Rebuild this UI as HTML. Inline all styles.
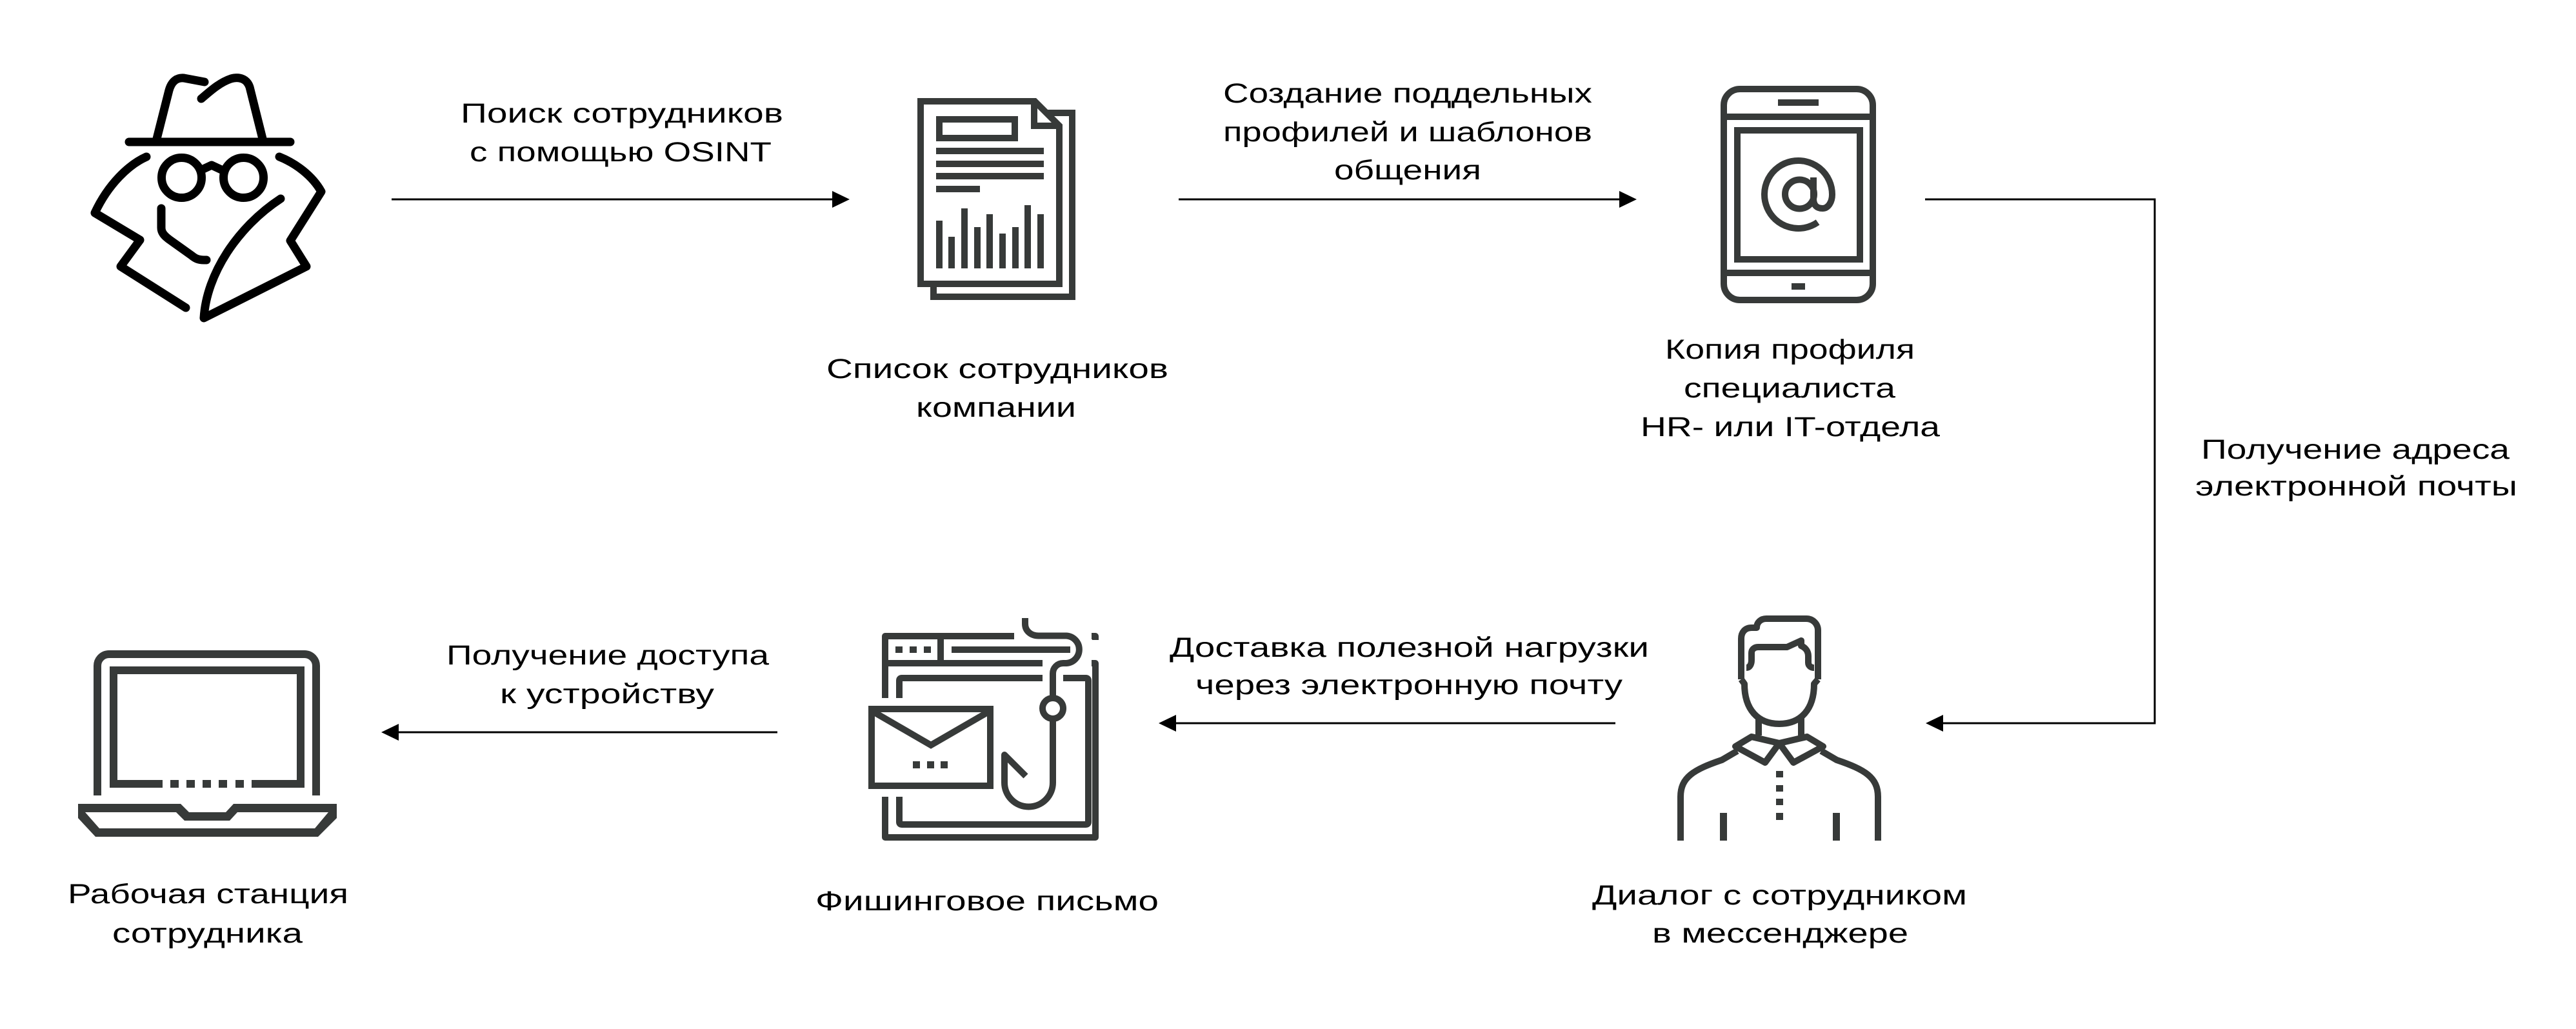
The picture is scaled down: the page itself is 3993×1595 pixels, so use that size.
<!DOCTYPE html>
<html>
<head>
<meta charset="utf-8">
<style>
html,body{margin:0;padding:0;background:#fff;}
body{width:3993px;height:1595px;overflow:hidden;}
svg{display:block;}
text{font-family:"Liberation Sans","Noto Sans CJK SC",sans-serif;font-size:43px;fill:#000;}
</style>
</head>
<body>
<svg width="3993" height="1595" viewBox="0 0 3993 1595" xmlns="http://www.w3.org/2000/svg">
<rect x="0" y="0" width="3993" height="1595" fill="#fff"/>

<!-- ===== Spy icon ===== -->
<g fill="none" stroke="#000" stroke-width="13" stroke-linecap="round" stroke-linejoin="round">
  <path d="M200,220 H450"/>
  <path d="M243,215 L262,140 C266,126 274,120 285,121 L317,127"/>
  <path d="M312,153 C325,142 340,128 358,122 C372,118 383,123 387,135 L407,215"/>
  <circle cx="281.5" cy="275.5" r="31"/>
  <circle cx="377.5" cy="275.5" r="31"/>
  <path d="M313,263 L328,256 L343,263"/>
  <path d="M227,243 C200,255 168,285 147,330 L217,372 L187,413 L288,477"/>
  <path d="M433,243 C458,253 484,272 498,297 L450,373 L475,413 L316,493 C320,425 368,352 435,308"/>
  <path d="M250,323 V353 C250,360 254,365 262,371 L297,396 C303,401 308,403 316,403 L320,403"/>
</g>

<!-- ===== Document icon ===== -->
<g fill="none" stroke="#373a39" stroke-width="10" stroke-linejoin="miter">
  <path d="M1427,157 H1604 L1642,195 V440 H1427 Z"/>
  <path d="M1603,157 V195 H1642"/>
  <path d="M1447,445 V460 H1662 V175 H1621"/>
  <rect x="1456" y="185" width="117" height="29"/>
</g>
<g fill="#373a39">
  <rect x="1451" y="229" width="167" height="10"/>
  <rect x="1451" y="249" width="167" height="10"/>
  <rect x="1451" y="268" width="167" height="10"/>
  <rect x="1451" y="288" width="68" height="10"/>
  <rect x="1451" y="342" width="10" height="74"/>
  <rect x="1470" y="367" width="10" height="49"/>
  <rect x="1490" y="323" width="10" height="93"/>
  <rect x="1510" y="352" width="10" height="64"/>
  <rect x="1529" y="332" width="10" height="84"/>
  <rect x="1549" y="362" width="10" height="54"/>
  <rect x="1569" y="352" width="10" height="64"/>
  <rect x="1588" y="318" width="10" height="98"/>
  <rect x="1608" y="332" width="10" height="84"/>
</g>

<!-- ===== Tablet icon ===== -->
<g fill="none" stroke="#373a39" stroke-width="10">
  <rect x="2672" y="138" width="231" height="327" rx="25" ry="25"/>
  <rect x="2693" y="202" width="190" height="200"/>
  <circle cx="2789.5" cy="301" r="22.5"/>
  <path d="M2811,275 V308 C2811,318 2816,323 2825,323 C2834,323 2840,313 2840,301.5 A52.5,52.5 0 1 0 2817.6,344.5"/>
</g>
<g fill="#373a39">
  <rect x="2667" y="176" width="241" height="10"/>
  <rect x="2756" y="154" width="63" height="10"/>
  <rect x="2667" y="418" width="241" height="10"/>
  <rect x="2777" y="439" width="21" height="10"/>
</g>

<!-- ===== Person icon ===== -->
<g fill="none" stroke="#373a39" stroke-width="10" stroke-linejoin="round">
  <path d="M2699,1053 V990 C2699,980 2705,973 2715,973 H2723 C2723,965 2729,959 2738,959 H2800 C2810,959 2818,967 2818,977 V1053"/>
  <path d="M2707,1035 C2712,1035 2715,1030 2715,1023 V1012 C2715,1007 2719,1003 2725,1003 H2770 L2792,993 V1001 C2799,1004 2803,1010 2803,1017 V1027 C2803,1032 2807,1035 2812,1035"/>
  <path d="M2699,1053 L2704,1060 C2704,1100 2725,1122 2758,1122 C2791,1122 2812,1100 2812,1060 L2818,1053"/>
  <path d="M2726,1110 V1140 M2792,1110 V1140"/>
  <path d="M2690,1157 L2715,1142 L2758,1152 L2736,1182 Z"/>
  <path d="M2826,1157 L2801,1142 L2758,1152 L2780,1182 Z"/>
  <path d="M2605,1303 V1235 C2605,1205 2625,1193 2669,1178 L2693,1164"/>
  <path d="M2911,1303 V1235 C2911,1205 2891,1193 2847,1178 L2823,1164"/>
</g>
<g fill="#373a39">
  <rect x="2753" y="1195" width="11" height="10"/>
  <rect x="2753" y="1217" width="11" height="10"/>
  <rect x="2753" y="1238" width="11" height="10"/>
  <rect x="2753" y="1260" width="11" height="11"/>
  <rect x="2666" y="1260" width="11" height="43"/>
  <rect x="2841" y="1260" width="11" height="43"/>
</g>

<!-- ===== Phishing icon ===== -->
<g fill="none" stroke="#373a39" stroke-width="10" stroke-linejoin="round">
  <path d="M1372,1082 V986 H1572"/>
  <path d="M1692,986 H1698 V992"/>
  <path d="M1692,1028 H1698 V1298 H1372 V1235"/>
  <path d="M1372,1028 H1616"/>
  <path d="M1458,986 V1028"/>
  <path d="M1589,958 V967 C1589,978 1598,985.5 1610,985.5 H1653 A21.3,21.3 0 0 1 1653,1028 H1648 C1639,1028 1632,1035 1632,1044 V1082"/>
  <circle cx="1632" cy="1098" r="16"/>
  <path d="M1632,1114 V1213 A37.5,37.5 0 0 1 1557,1213 V1170 L1590,1203"/>
  <path d="M1394,1082 V1055 Q1394,1051 1398,1051 H1616 M1648,1051 H1683 Q1687,1051 1687,1055 V1274 Q1687,1278 1683,1278 H1398 Q1394,1278 1394,1274 V1235"/>
  <rect x="1351" y="1099" width="184" height="119" fill="#fff" stroke-linejoin="miter"/>
  <path d="M1355,1104 L1443,1155 L1531,1104" stroke-linejoin="miter"/>
</g>
<g fill="#373a39">
  <rect x="1388" y="1002" width="11" height="10"/>
  <rect x="1410" y="1002" width="11" height="10"/>
  <rect x="1432" y="1002" width="11" height="10"/>
  <rect x="1475" y="1002" width="184" height="10"/>
  <rect x="1415" y="1180" width="11" height="11"/>
  <rect x="1437" y="1180" width="11" height="11"/>
  <rect x="1458" y="1180" width="11" height="11"/>
</g>

<!-- ===== Laptop icon ===== -->
<g fill="none" stroke="#373a39" stroke-width="12">
  <path d="M151,1233 V1032 A18,18 0 0 1 169,1014 H472 A18,18 0 0 1 490,1032 V1233"/>
  <path d="M252,1215 H176 V1039 H466 V1215 H390"/>
</g>
<g fill="#373a39">
  <rect x="264" y="1209" width="13" height="12"/>
  <rect x="289" y="1209" width="13" height="12"/>
  <rect x="314" y="1209" width="13" height="12"/>
  <rect x="339" y="1209" width="13" height="12"/>
  <rect x="365" y="1209" width="13" height="12"/>
  <path fill-rule="evenodd" d="M121,1246 L280,1246 L293,1259 L350,1259 L362,1246 L522,1246 L522,1268 L493,1297 L148,1297 L121,1268 Z M132,1259 L273,1259 L286,1272 L356,1272 L368,1259 L509,1259 L488,1284 L154,1284 Z"/>
</g>

<!-- ===== Arrows / connectors ===== -->
<g stroke="#000" stroke-width="3" fill="none">
  <path d="M607,309 H1292"/>
  <path d="M1827,309 H2512"/>
  <path d="M2984,309 H3340 V1121 H3010"/>
  <path d="M2504,1121 H1821"/>
  <path d="M1205,1135 H616"/>
</g>
<g fill="#000">
  <polygon points="1290,296 1317,309 1290,322"/>
  <polygon points="2510,296 2537,309 2510,322"/>
  <polygon points="3012,1108 2985,1121 3012,1134"/>
  <polygon points="1823,1108 1796,1121 1823,1134"/>
  <polygon points="618,1122 591,1135 618,1148"/>
</g>

<!-- ===== Labels ===== -->
<g>
  <text x="714" y="190" textLength="500" lengthAdjust="spacingAndGlyphs">Поиск сотрудников</text>
  <text x="728" y="250" textLength="468" lengthAdjust="spacingAndGlyphs">с помощью OSINT</text>

  <text x="1281" y="586" textLength="530" lengthAdjust="spacingAndGlyphs">Список сотрудников</text>
  <text x="1420" y="646" textLength="248" lengthAdjust="spacingAndGlyphs">компании</text>

  <text x="1896" y="159" textLength="572" lengthAdjust="spacingAndGlyphs">Создание поддельных</text>
  <text x="1896" y="219" textLength="572" lengthAdjust="spacingAndGlyphs">профилей и шаблонов</text>
  <text x="2068" y="278" textLength="228" lengthAdjust="spacingAndGlyphs">общения</text>

  <text x="2581" y="556" textLength="387" lengthAdjust="spacingAndGlyphs">Копия профиля</text>
  <text x="2610" y="616" textLength="328" lengthAdjust="spacingAndGlyphs">специалиста</text>
  <text x="2543" y="676" textLength="464" lengthAdjust="spacingAndGlyphs">HR- или IT-отдела</text>

  <text x="3412" y="711" textLength="478" lengthAdjust="spacingAndGlyphs">Получение адреса</text>
  <text x="3403" y="768" textLength="499" lengthAdjust="spacingAndGlyphs">электронной почты</text>

  <text x="2468" y="1402" textLength="581" lengthAdjust="spacingAndGlyphs">Диалог с сотрудником</text>
  <text x="2561" y="1461" textLength="397" lengthAdjust="spacingAndGlyphs">в мессенджере</text>

  <text x="1813" y="1018" textLength="743" lengthAdjust="spacingAndGlyphs">Доставка полезной нагрузки</text>
  <text x="1853" y="1076" textLength="662" lengthAdjust="spacingAndGlyphs">через электронную почту</text>

  <text x="1264" y="1411" textLength="532" lengthAdjust="spacingAndGlyphs">Фишинговое письмо</text>

  <text x="692" y="1030" textLength="500" lengthAdjust="spacingAndGlyphs">Получение доступа</text>
  <text x="775" y="1090" textLength="332" lengthAdjust="spacingAndGlyphs">к устройству</text>

  <text x="105" y="1400" textLength="435" lengthAdjust="spacingAndGlyphs">Рабочая станция</text>
  <text x="174" y="1461" textLength="295" lengthAdjust="spacingAndGlyphs">сотрудника</text>
</g>
</svg>
</body>
</html>
